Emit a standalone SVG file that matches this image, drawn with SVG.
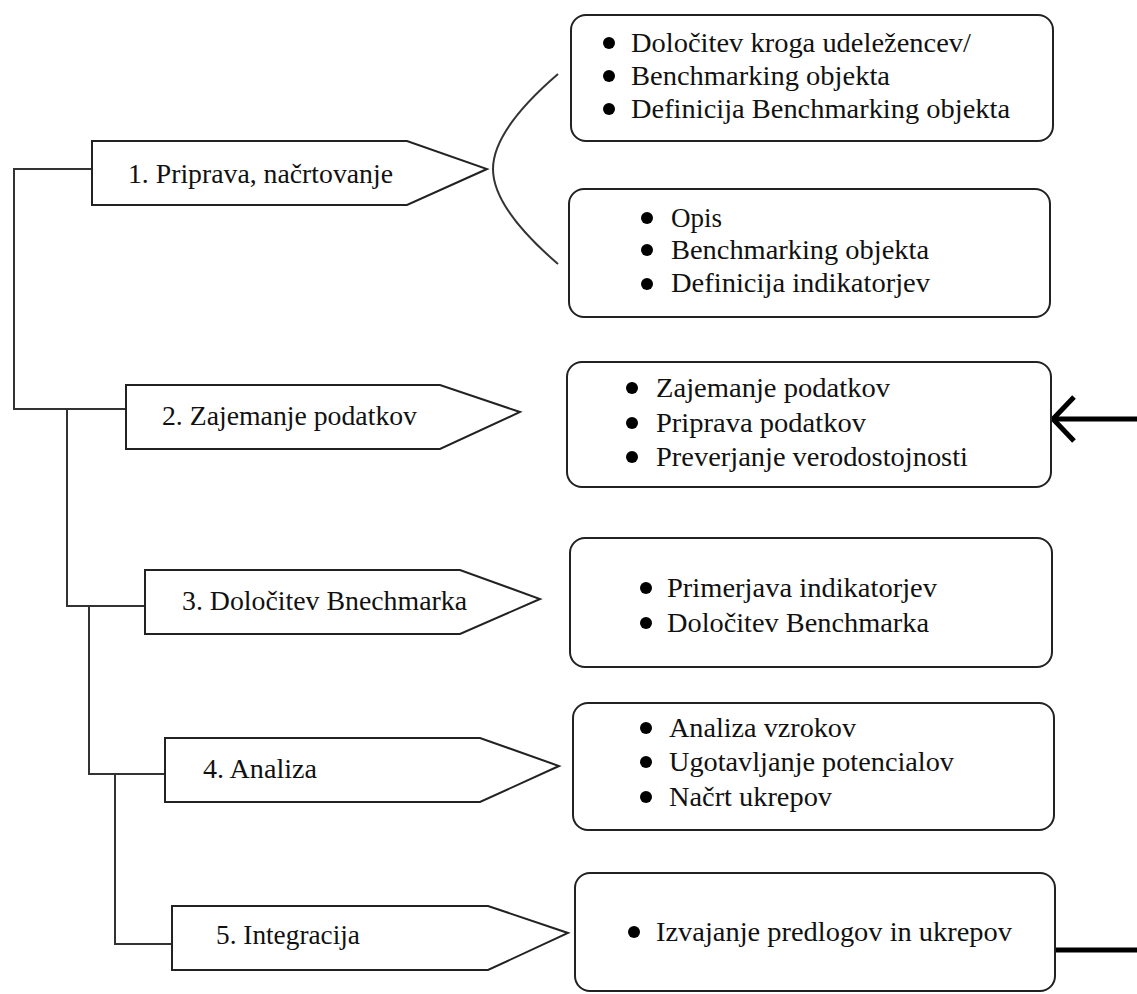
<svg xmlns="http://www.w3.org/2000/svg" width="1137" height="994" viewBox="0 0 1137 994">
<style>
.bg{fill:#fff}
.pent{fill:#fff;stroke:#222;stroke-width:2}
.box{fill:#fff;stroke:#222;stroke-width:2}
.conn{fill:none;stroke:#333;stroke-width:2}
.thick{fill:none;stroke:#000;stroke-width:5}
text{font-family:"Liberation Serif","Times New Roman",serif;font-size:27px;fill:#111}
.dot{fill:#000}
</style>
<rect class="bg" x="0" y="0" width="1137" height="994"/>
<g id="connectors">
<path class="conn" d="M92,169 H14 V409 H126"/>
<path class="conn" d="M67,409 V606 H145"/>
<path class="conn" d="M89,606 V774 H165"/>
<path class="conn" d="M115,774 V944 H172"/>
<path class="conn" d="M558,74 Q493,130 493,169 Q493,208 558,264"/>
<path class="thick" d="M1137,419 H1053"/>
<polyline class="thick" points="1074,397 1053,419 1074,441"/>
<path class="thick" d="M1056,950 H1137"/>
</g>
<g id="step1">
<path class="pent" d="M92,141 H407 L487,169 L407,205 H92 Z"/>
<text x="128" y="183" textLength="265" lengthAdjust="spacingAndGlyphs">1. Priprava, načrtovanje</text>
</g>
<g id="step2">
<path class="pent" d="M126,385 H440 L520,412 L440,449 H126 Z"/>
<text x="162" y="425" textLength="255" lengthAdjust="spacingAndGlyphs">2. Zajemanje podatkov</text>
</g>
<g id="step3">
<path class="pent" d="M145,570 H460 L540,599 L460,634 H145 Z"/>
<text x="182" y="610" textLength="285" lengthAdjust="spacingAndGlyphs">3. Določitev Bnechmarka</text>
</g>
<g id="step4">
<path class="pent" d="M165,738 H480 L559,766 L480,802 H165 Z"/>
<text x="203" y="778" textLength="114" lengthAdjust="spacingAndGlyphs">4. Analiza</text>
</g>
<g id="step5">
<path class="pent" d="M172,906 H488 L568,933 L488,970 H172 Z"/>
<text x="216" y="944" textLength="144" lengthAdjust="spacingAndGlyphs">5. Integracija</text>
</g>
<g id="box1">
<rect class="box" x="571" y="15" width="482" height="126" rx="15"/>
<circle class="dot" cx="609" cy="43" r="6"/>
<circle class="dot" cx="609" cy="76" r="6"/>
<circle class="dot" cx="609" cy="109" r="6"/>
<text x="631" y="52" textLength="340" lengthAdjust="spacingAndGlyphs">Določitev kroga udeležencev/</text>
<text x="631" y="85" textLength="259" lengthAdjust="spacingAndGlyphs">Benchmarking objekta</text>
<text x="631" y="118" textLength="379" lengthAdjust="spacingAndGlyphs">Definicija Benchmarking objekta</text>
</g>
<g id="box2">
<rect class="box" x="569" y="189" width="481" height="128" rx="15"/>
<circle class="dot" cx="647" cy="218" r="6"/>
<circle class="dot" cx="647" cy="250" r="6"/>
<circle class="dot" cx="647" cy="284" r="6"/>
<text x="671" y="227">Opis</text>
<text x="671" y="259" textLength="258" lengthAdjust="spacingAndGlyphs">Benchmarking objekta</text>
<text x="671" y="292" textLength="259" lengthAdjust="spacingAndGlyphs">Definicija indikatorjev</text>
</g>
<g id="box3">
<rect class="box" x="567" y="362" width="484" height="125" rx="15"/>
<circle class="dot" cx="632" cy="388" r="6"/>
<circle class="dot" cx="632" cy="423" r="6"/>
<circle class="dot" cx="632" cy="457" r="6"/>
<text x="656" y="397" textLength="234" lengthAdjust="spacingAndGlyphs">Zajemanje podatkov</text>
<text x="656" y="432" textLength="210" lengthAdjust="spacingAndGlyphs">Priprava podatkov</text>
<text x="656" y="466" textLength="312" lengthAdjust="spacingAndGlyphs">Preverjanje verodostojnosti</text>
</g>
<g id="box4">
<rect class="box" x="570" y="538" width="482" height="129" rx="15"/>
<circle class="dot" cx="646" cy="588" r="6"/>
<circle class="dot" cx="646" cy="623" r="6"/>
<text x="667" y="597" textLength="270" lengthAdjust="spacingAndGlyphs">Primerjava indikatorjev</text>
<text x="667" y="632" textLength="262" lengthAdjust="spacingAndGlyphs">Določitev Benchmarka</text>
</g>
<g id="box5">
<rect class="box" x="573" y="703" width="481" height="127" rx="15"/>
<circle class="dot" cx="646" cy="728" r="6"/>
<circle class="dot" cx="646" cy="762" r="6"/>
<circle class="dot" cx="646" cy="797" r="6"/>
<text x="669" y="737" textLength="187" lengthAdjust="spacingAndGlyphs">Analiza vzrokov</text>
<text x="669" y="771" textLength="285" lengthAdjust="spacingAndGlyphs">Ugotavljanje potencialov</text>
<text x="669" y="806" textLength="163" lengthAdjust="spacingAndGlyphs">Načrt ukrepov</text>
</g>
<g id="box6">
<rect class="box" x="575" y="873" width="480" height="118" rx="15"/>
<circle class="dot" cx="634" cy="932" r="6"/>
<text x="656" y="941" textLength="356" lengthAdjust="spacingAndGlyphs">Izvajanje predlogov in ukrepov</text>
</g>
</svg>
